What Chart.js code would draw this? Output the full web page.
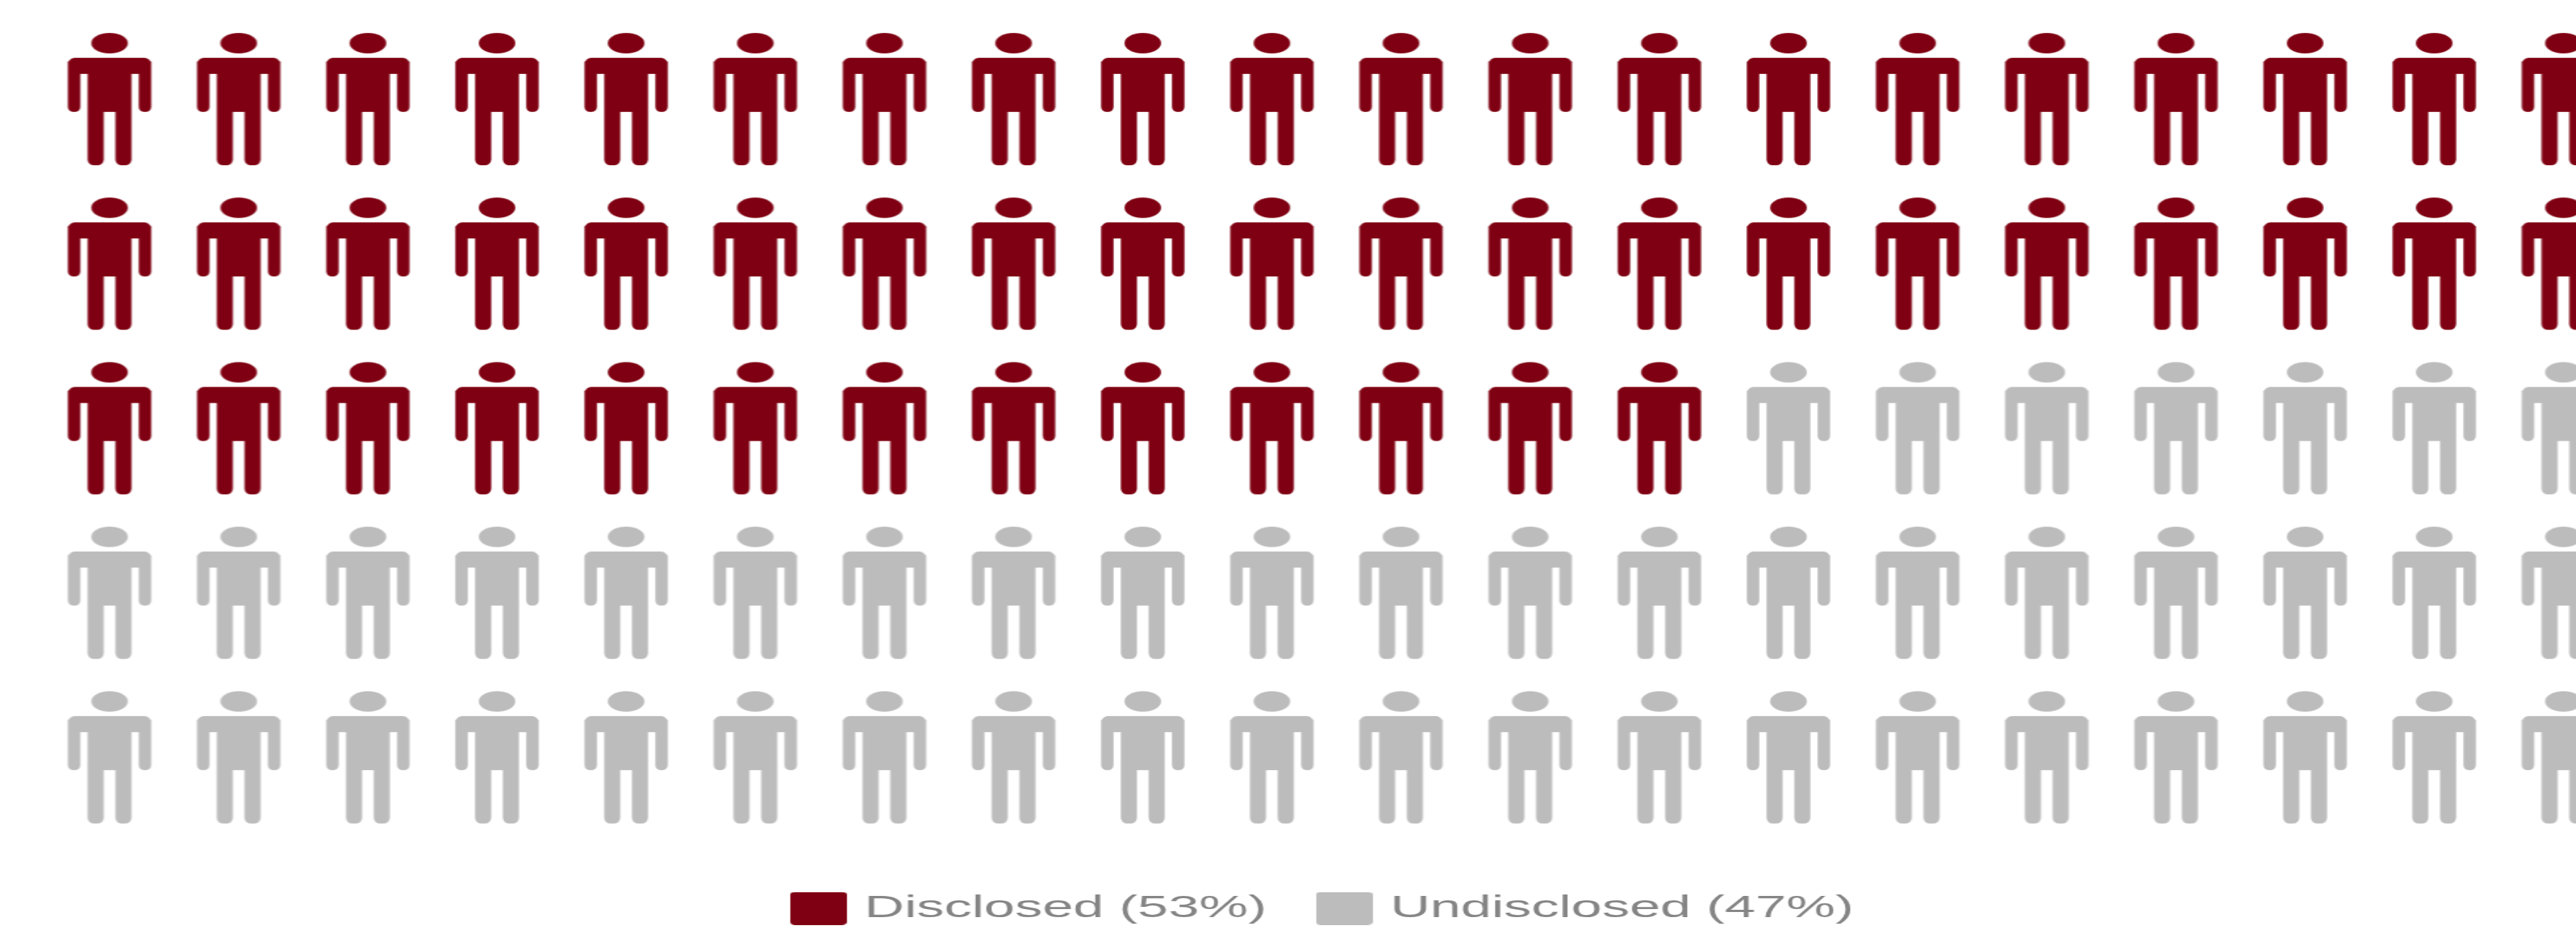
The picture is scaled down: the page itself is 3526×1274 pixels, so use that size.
<!DOCTYPE html>
<html>
<head>
<meta charset="utf-8">
<title>Disclosed vs undisclosed</title>
<script src="https://cdn.jsdelivr.net/npm/chart.js@4"></script>
<style>
    html, body { margin: 0; padding: 0; background: #fff; overflow: hidden; }
    #frame { width: 3526px; height: 1274px; overflow: hidden; position: relative; }
    /* the chart is laid out narrow and stretched sideways, text included */
    #stretch { width: 2018px; height: 1274px; transform: scaleX(1.8); transform-origin: 0 0; }
</style>
</head>
<body>
<div id="frame"><div id="stretch"><canvas id="chart-people" width="2018" height="1274"></canvas></div></div>
<script>
var seriesNames = ['Disclosed', 'Undisclosed'];
var seriesShares = [53, 47];
var seriesColors = ['#7f0012', '#bcbcbc'];
var gridColumns = 20;
var gridRows = 5;

var STRETCH = 1.8;

// one person, drawn around its centre, as an image for pointStyle
function makePerson(color) {
    var icon = document.createElement('canvas');
    icon.width = 70;
    icon.height = 190;
    var ctx = icon.getContext('2d');
    ctx.fillStyle = color;
    ctx.scale(1 / STRETCH, 1);
    ctx.translate(63, 4);

    ctx.beginPath();
    ctx.ellipse(0, 15, 25, 14, 0, 0, Math.PI * 2);
    ctx.fill();

    ctx.beginPath();
    ctx.roundRect(-57, 35, 114, 22, [9, 9, 0, 0]);   // shoulders
    ctx.roundRect(-57, 40, 17, 69, [0, 0, 7, 7]);    // left arm
    ctx.roundRect(40, 40, 17, 69, [0, 0, 7, 7]);     // right arm
    ctx.rect(-30, 40, 60, 69);                       // torso
    ctx.roundRect(-30, 100, 22, 82, [0, 0, 8, 8]);   // left leg
    ctx.roundRect(8, 100, 22, 82, [0, 0, 8, 8]);     // right leg
    ctx.fill();
    return icon;
}

// legend swatch; an image so the label can sit closer than the default box allows
function makeSwatch(color) {
    var swatch = document.createElement('canvas');
    swatch.width = 43;
    swatch.height = 45;
    var ctx = swatch.getContext('2d');
    ctx.fillStyle = color;
    ctx.beginPath();
    ctx.roundRect(0, 0, 43, 45, 4);
    ctx.fill();
    return swatch;
}

var swatches = seriesColors.map(makeSwatch);

// fill the grid row by row, one cell per percent
function buildDatasets() {
    var cell = 0;
    return seriesNames.map(function (name, s) {
        var points = [];
        for (var n = 0; n < seriesShares[s]; n++) {
            points.push({ x: cell % gridColumns, y: Math.floor(cell / gridColumns) });
            cell++;
        }
        return {
            label: name + ' (' + seriesShares[s] + '%)',
            data: points,
            backgroundColor: seriesColors[s],
            borderColor: seriesColors[s],
            borderWidth: 0,
            pointStyle: makePerson(seriesColors[s])
        };
    });
}

new Chart(document.getElementById('chart-people').getContext('2d'), {
    type: 'scatter',
    data: { datasets: buildDatasets() },
    options: {
        responsive: false,
        animation: false,
        devicePixelRatio: 1,
        layout: { padding: 0, autoPadding: false },
        scales: {
            x: { display: false, min: -0.848, max: 19.70 },
            y: { display: false, reverse: true, min: -0.6, max: 4.627 }
        },
        plugins: {
            tooltip: { enabled: false },
            legend: {
                position: 'bottom',
                labels: {
                    usePointStyle: true,
                    pointStyleWidth: 28,
                    padding: 45,
                    color: '#858585',
                    font: { family: '"Liberation Sans", Arial, sans-serif', size: 42 },
                    generateLabels: function (chart) {
                        var items = Chart.defaults.plugins.legend.labels.generateLabels(chart);
                        items.forEach(function (item) {
                            item.pointStyle = swatches[item.datasetIndex];
                        });
                        return items;
                    }
                }
            }
        }
    }
});
</script>
</body>
</html>
